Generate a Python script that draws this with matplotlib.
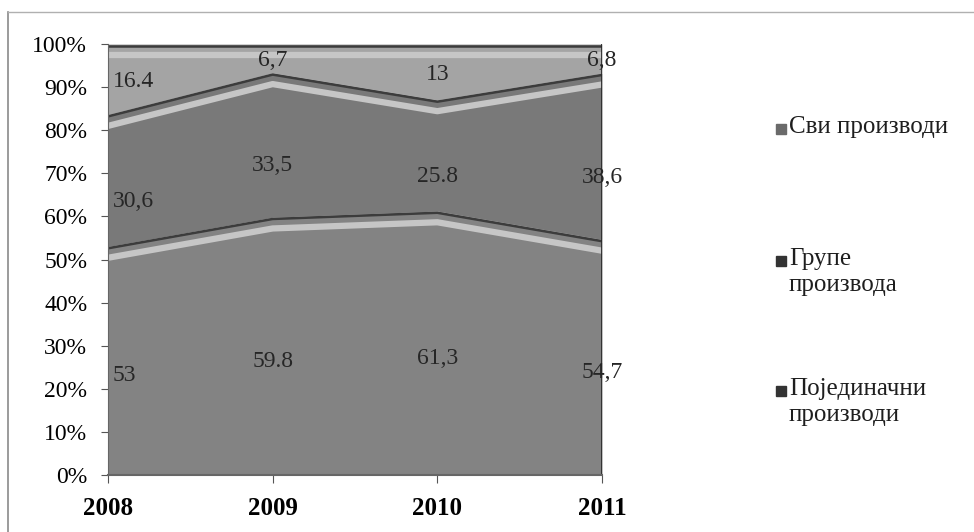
import numpy as np
import matplotlib
matplotlib.use('Agg')
import matplotlib.pyplot as plt
from matplotlib.patches import Rectangle

plt.rcParams['font.family'] = ['Liberation Serif', 'DejaVu Serif']

# Podaci
godine = ['2008', '2009', '2010', '2011']
pojedinacni = [53, 59.8, 61.3, 54.7]
grupe = [30.6, 33.5, 25.8, 38.6]
svi = [16.4, 6.7, 13, 6.8]

lbl_pojedinacni = ['53', '59.8', '61,3', '54,7']
lbl_grupe = ['30,6', '33,5', '25.8', '38,6']
lbl_svi = ['16.4', '6,7', '13', '6,8']

nazivi = ['Сви производи', 'Групе\nпроизвода', 'Појединачни\nпроизводи']

x = np.arange(len(godine))
p = np.array(pojedinacni)
g = np.array(grupe)
s = np.array(svi)
ukupno = p + g + s
p_pct = p / ukupno * 100
g_pct = g / ukupno * 100
s_pct = s / ukupno * 100
c1 = p_pct
c2 = p_pct + g_pct
c3 = c2 + s_pct

fig = plt.figure(figsize=(9.74, 5.32), dpi=100)
ax = fig.add_axes([108 / 974, 1 - 475 / 532, (602 - 108) / 974, (475 - 44) / 532])

boja_p = '#838383'
boja_g = '#797979'
boja_s = '#a4a4a4'
ax.fill_between(x, 0, c1, color=boja_p, lw=0)
ax.fill_between(x, c1, c2, color=boja_g, lw=0)
ax.fill_between(x, c2, c3, color=boja_s, lw=0)

# svetle trake ispod granica (3D efekat)
for granica in [c1, c2, c3]:
    ax.plot(x, granica - 2.6, color='#c6c6c6', lw=4.5, solid_capstyle='butt')
    ax.plot(x, granica - 0.4, color='#3c3c3c', lw=1.8, solid_capstyle='butt')

# desna ivica
ax.plot([x[-1], x[-1]], [0, 100], color='#2a2a2a', lw=2)

# oznake vrednosti
def poravnanje(i):
    return 'left' if i == 0 else 'center'

fs = 17
for i in range(len(x)):
    dx = 0.03 if i == 0 else 0
    ax.text(x[i] + dx, c1[i] / 2 - 3.5, lbl_pojedinacni[i], ha=poravnanje(i),
            va='center', fontsize=fs, color='#262626')
    ax.text(x[i] + dx, c1[i] + g_pct[i] / 2 - 4.8, lbl_grupe[i], ha=poravnanje(i),
            va='center', fontsize=fs, color='#262626')
    ax.text(x[i] + dx, c2[i] + s_pct[i] / 2 - 0.5, lbl_svi[i], ha=poravnanje(i),
            va='center', fontsize=fs, color='#262626')

ax.set_xlim(x[0], x[-1])
ax.set_ylim(0, 100)
ax.set_yticks(np.arange(0, 101, 10))
ax.set_yticklabels([f'{v}%' for v in range(0, 101, 10)], fontsize=17)
ax.set_xticks(x)
ax.set_xticklabels(godine, fontsize=18, fontweight='bold')
ax.tick_params(axis='y', length=5, color='#555555', pad=10)
ax.tick_params(axis='x', length=6, color='#555555', pad=10)
for side in ['top', 'right']:
    ax.spines[side].set_visible(False)
ax.spines['left'].set_color('#666666')
ax.spines['bottom'].set_color('#666666')
ax.spines['bottom'].set_linewidth(1.5)

# legenda
leg_boje = ['#6a6a6a', '#333333', '#333333']
leg_y = [129, 261, 391]
for naziv, boja, yy in zip(nazivi, leg_boje, leg_y):
    fig.patches.append(Rectangle((776 / 974, 1 - (yy + 5) / 532), 10 / 974, 10 / 532,
                                 transform=fig.transFigure, color=boja))
    fig.text(789 / 974, 1 - (yy - 13) / 532, naziv, fontsize=18, va='top',
             ha='left', linespacing=1.25, color='#1e1e1e')

# okvir (leva i gornja ivica)
fig.add_artist(plt.Line2D([8 / 974, 8 / 974], [0, 1 - 12 / 532],
                          transform=fig.transFigure, color='#8a8a8a', lw=1.2))
fig.add_artist(plt.Line2D([8 / 974, 1], [1 - 12 / 532, 1 - 12 / 532],
                          transform=fig.transFigure, color='#b0b0b0', lw=1.0))

fig.savefig('out.png', dpi=100)
